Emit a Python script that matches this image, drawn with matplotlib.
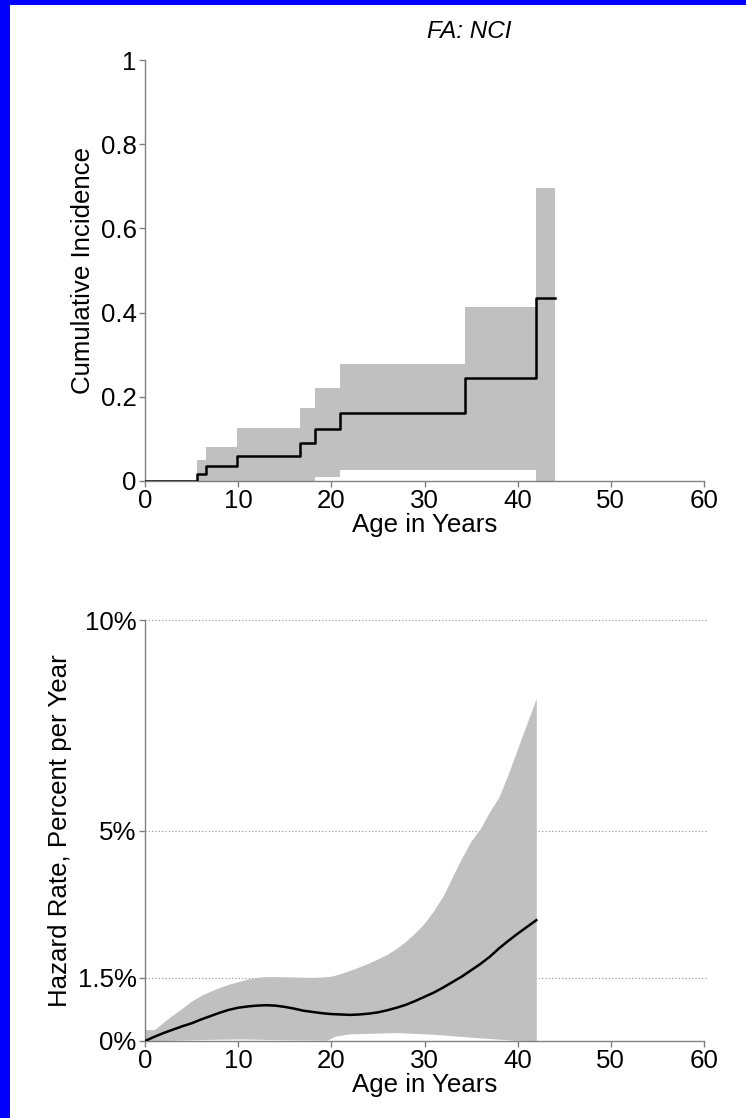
import matplotlib
matplotlib.use("Agg")
import matplotlib.pyplot as plt
from matplotlib.patches import Rectangle

plt.rcParams['font.family'] = ['Liberation Sans', 'DejaVu Sans']

# ---- data: cumulative incidence (step function) ----
ci_age = [0, 5.55, 6.55, 9.9, 16.6, 18.3, 20.9, 34.3, 42.0, 44.0]
ci_est = [0, 0.016, 0.036, 0.059, 0.090, 0.123, 0.161, 0.244, 0.434, 0.434]
ci_upper = [0, 0.051, 0.081, 0.125, 0.173, 0.222, 0.277, 0.414, 0.695, 0.695]
ci_lower = [0, 0, 0, 0, 0, 0.010, 0.026, 0.026, 0, 0]

# ---- data: hazard rate (percent per year) ----
hz_age = [0, 1, 2, 3, 4, 5, 6, 7, 8, 9, 10, 11, 12, 13, 14, 15, 16, 17, 18, 19, 20,
          21, 22, 23, 24, 25, 26, 27, 28, 29, 30, 31, 32, 33, 34, 35, 36, 37, 38,
          39, 40, 41, 42]
hz_est = [0, 0.10, 0.19, 0.27, 0.35, 0.42, 0.51, 0.59, 0.67, 0.74, 0.79, 0.82, 0.84,
          0.85, 0.84, 0.81, 0.77, 0.72, 0.69, 0.66, 0.64, 0.63, 0.62, 0.63, 0.65,
          0.68, 0.73, 0.79, 0.86, 0.95, 1.05, 1.15, 1.27, 1.40, 1.53, 1.68, 1.83,
          2.00, 2.20, 2.38, 2.55, 2.71, 2.87]

hz_up_age = [0, 1, 2, 3, 4, 5, 6, 7, 8, 9, 10, 11, 12, 13, 14, 16, 18, 19, 20, 21,
             22, 23, 24, 25, 26, 27, 28, 29, 30, 31, 32, 33, 34, 35, 36, 37, 38, 39,
             40, 41, 42]
hz_upper = [0.27, 0.27, 0.45, 0.62, 0.78, 0.95, 1.08, 1.18, 1.27, 1.35, 1.41, 1.47,
            1.51, 1.53, 1.53, 1.52, 1.51, 1.52, 1.54, 1.60, 1.68, 1.76, 1.85, 1.95,
            2.06, 2.20, 2.37, 2.57, 2.80, 3.10, 3.45, 3.90, 4.35, 4.75, 5.05, 5.45,
            5.80, 6.35, 6.95, 7.55, 8.14]

hz_lo_age = [0, 5, 10, 15, 19.5, 20.5, 22, 27, 31, 35, 39.5, 42]
hz_lower = [0, 0.03, 0.05, 0.03, 0.02, 0.12, 0.17, 0.20, 0.16, 0.09, 0.02, 0]

ci_yticks = [0, 0.2, 0.4, 0.6, 0.8, 1]
ci_yticklabels = ['0', '0.2', '0.4', '0.6', '0.8', '1']
hz_yticks = [0, 1.5, 5, 10]
hz_yticklabels = ['0%', '1.5%', '5%', '10%']
x_ticks = [0, 10, 20, 30, 40, 50, 60]

W, H = 746, 1118
fig = plt.figure(figsize=(W / 100, H / 100), dpi=100)
fig.patch.set_facecolor('white')

band = '#c0c0c0'
spine_c = '#808080'
FS = 18.6

def style(ax):
    for s in ['top', 'right']:
        ax.spines[s].set_visible(False)
    for s in ['left', 'bottom']:
        ax.spines[s].set_color(spine_c)
        ax.spines[s].set_linewidth(1.0)
    ax.tick_params(direction='out', length=4, width=1, color=spine_c,
                   labelsize=FS, pad=2, labelcolor='black')
    ax.set_xlim(0, 60)
    ax.set_xticks(x_ticks)
    ax.set_xticklabels([str(t) for t in x_ticks])
    ax.set_xlabel('Age in Years', fontsize=FS, labelpad=0)

left = 145 / W
width = 559 / W
height = 421 / H

# top: cumulative incidence
ax1 = fig.add_axes([left, 1 - 481 / H, width, height])
ax1.fill_between(ci_age, ci_lower, ci_upper, step='post', color=band, linewidth=0)
ax1.step(ci_age, ci_est, where='post', color='black', linewidth=1.8, zorder=3)
ax1.set_ylim(0, 1)
ax1.set_yticks(ci_yticks)
ax1.set_yticklabels(ci_yticklabels)
style(ax1)
ax1.set_ylabel('Cumulative Incidence', fontsize=FS, labelpad=4)

# bottom: hazard rate
ax2 = fig.add_axes([left, 1 - 1041 / H, width, height])
for g in hz_yticks[1:]:
    ax2.plot([0, 60.3], [g, g], linestyle=(0, (1, 2)), color='#909090',
             linewidth=0.8, clip_on=False, zorder=1)
ax2.fill_between(hz_up_age, hz_upper, 0, color=band, linewidth=0, zorder=2)
ax2.fill_between(hz_lo_age, hz_lower, 0, color='white', linewidth=0, zorder=2.5)
ax2.plot(hz_age, hz_est, color='black', linewidth=1.8, zorder=3,
         solid_joinstyle='round')
ax2.set_ylim(0, 10)
ax2.set_yticks(hz_yticks)
ax2.set_yticklabels(hz_yticklabels)
style(ax2)
ax2.set_ylabel('Hazard Rate, Percent per Year', fontsize=FS, labelpad=4)

fig.text(469 / W, 1 - 31 / H, 'FA: NCI', fontsize=17.5, style='italic',
         ha='center', va='center')

# blue frame (top and left)
fig.patches.append(Rectangle((0, 1 - 5 / H), 1, 5 / H, transform=fig.transFigure,
                             facecolor='#0000ff', edgecolor='none', zorder=10))
fig.patches.append(Rectangle((0, 0), 10 / W, 1, transform=fig.transFigure,
                             facecolor='#0000ff', edgecolor='none', zorder=10))

fig.savefig('out.png', dpi=100, facecolor='white')
